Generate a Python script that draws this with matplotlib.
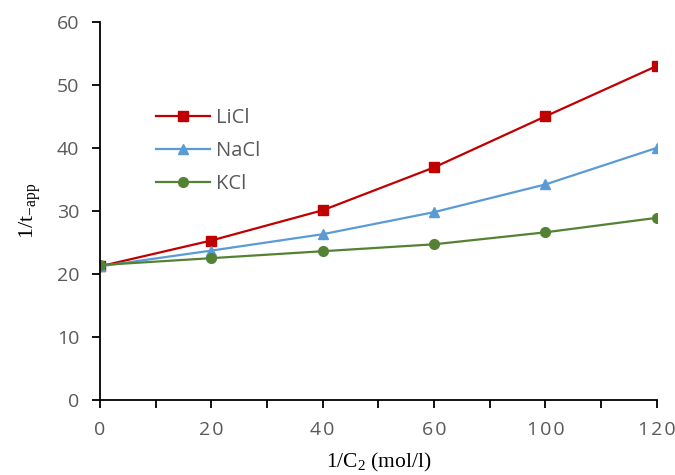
import numpy as np
import matplotlib.pyplot as plt

# category axis (evenly spaced in the original)
categories = ["0", "20", "40", "60", "100", "120"]
licl = [21.2, 25.3, 30.1, 36.9, 45.0, 53.0]
nacl = [21.2, 23.7, 26.3, 29.8, 34.2, 40.0]
kcl = [21.4, 22.5, 23.6, 24.7, 26.6, 28.9]

fig = plt.figure(figsize=(6.75, 4.75), dpi=100)
ax = fig.add_axes([0.148, 0.158, 0.825, 0.796])

x = np.arange(len(categories))
ax.plot(x, licl, color="#C00000", marker="s", markersize=6.5, lw=1.6, label="LiCl")
ax.plot(x, nacl, color="#5B9BD5", marker="^", markersize=6.5, lw=1.6, label="NaCl")
ax.plot(x, kcl, color="#548235", marker="o", markersize=7, lw=1.6, label="KCl")

ax.set_xlim(0, len(categories) - 1)
ax.set_ylim(0, 60)
ax.set_yticks(range(0, 61, 10))
ax.set_xticks(x)
# letter-spaced labels like the original
ax.set_xticklabels(["\u200a".join(c) for c in categories])
ax.set_xticks(np.arange(0.5, len(categories) - 1, 1.0), minor=True)

for s in ["top", "right"]:
    ax.spines[s].set_visible(False)
ax.spines["left"].set_linewidth(1.3)
ax.spines["bottom"].set_linewidth(1.3)
ax.tick_params(axis="both", which="both", direction="out", width=1.3, length=6,
               colors="black", labelcolor="#595959", labelsize=14)
ax.tick_params(axis="x", pad=9)
ax.tick_params(axis="y", pad=9)
for lab in ax.get_xticklabels() + ax.get_yticklabels():
    lab.set_family("Open Sans")

ax.set_ylabel("1/t$_{\\mathregular{-app}}$", family="Liberation Serif", fontsize=16)
ax.yaxis.set_label_coords(-0.1, 0.5)
ax.set_xlabel("1/C$_{\\mathregular{2}}$ (mol/l)", family="Liberation Serif", fontsize=15.5)
ax.xaxis.set_label_coords(0.5, -0.135)

leg = ax.legend(loc="upper left", bbox_to_anchor=(0.068, 0.82), frameon=False,
                prop={"family": "Open Sans", "size": 14.5}, handlelength=2.7,
                handletextpad=0.3, labelspacing=0.65)
for t in leg.get_texts():
    t.set_color("#595959")

fig.savefig("out.png", dpi=100)
